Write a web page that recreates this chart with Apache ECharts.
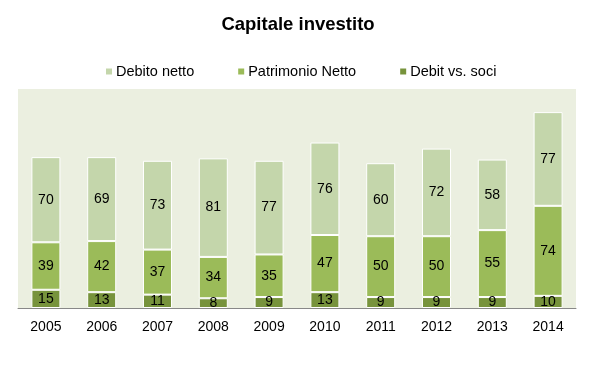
<!DOCTYPE html>
<html><head><meta charset="utf-8">
<script src="https://cdn.jsdelivr.net/npm/echarts@6/dist/echarts.min.js"></script>
<style>html,body{margin:0;padding:0;background:#fff}#c{width:596px;height:365px}</style>
</head><body><div id="c"></div>
<script>
var years = ['2005','2006','2007','2008','2009','2010','2011','2012','2013','2014'];
var debitSoci = [15,13,11,8,9,13,9,9,9,10];
var patrimonioNetto = [39,42,37,34,35,47,50,50,55,74];
var debitoNetto = [70,69,73,81,77,76,60,72,58,77];

var chart = echarts.init(document.getElementById('c'));
var font = 'Liberation Sans, Arial, sans-serif';
function s(name, data, color){
  return {name:name,type:'bar',stack:'t',data:data,barWidth:'52%',
    itemStyle:{color:color,borderColor:'#fff',borderWidth:1},
    label:{show:true,position:'inside',color:'#000',fontSize:14,fontFamily:font}};
}
chart.setOption({
  animation:false,
  title:{text:'Capitale investito',left:'center',top:10,textStyle:{fontFamily:font,fontSize:18.5,fontWeight:'bold',color:'#000'}},
  legend:{top:59,left:99,itemWidth:8,itemHeight:8,itemGap:42,icon:'rect',
    textStyle:{fontFamily:font,fontSize:14.5,color:'#000',padding:[0,0,0,-2]},
    data:['Debito netto','Patrimonio Netto','Debit vs. soci']},
  grid:{left:18,right:20,top:89,bottom:57,backgroundColor:'#EBEFE0',show:true,borderWidth:0},
  xAxis:{type:'category',data:years,axisTick:{show:false},
    axisLine:{lineStyle:{color:'#888',width:1}},
    axisLabel:{color:'#000',fontFamily:font,fontSize:14,margin:12}},
  yAxis:{type:'value',min:0,max:180,show:false,splitLine:{show:false}},
  series:[
    s('Debit vs. soci',debitSoci,'#77933C'),
    s('Patrimonio Netto',patrimonioNetto,'#9BBB59'),
    s('Debito netto',debitoNetto,'#C4D6AB')
  ]
});
</script></body></html>
